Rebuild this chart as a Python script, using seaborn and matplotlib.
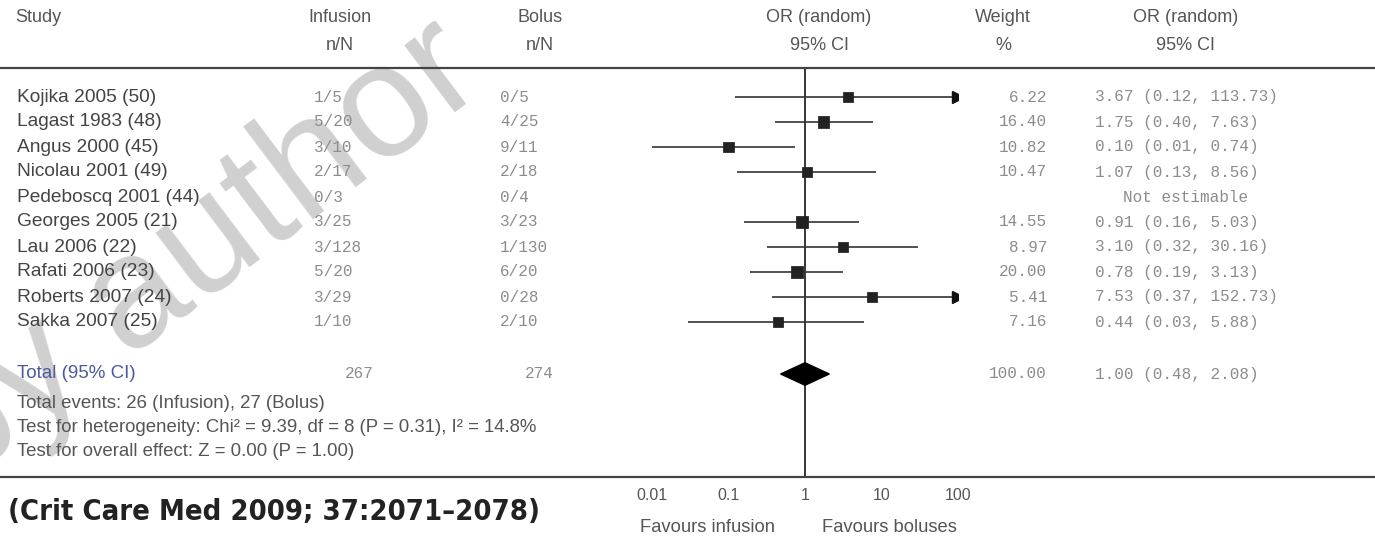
import numpy as np
import pandas as pd
import matplotlib
matplotlib.use('Agg')
import matplotlib.pyplot as plt
import matplotlib.transforms as mtransforms
from matplotlib import font_manager
from matplotlib.lines import Line2D
import seaborn as sns

# data
studies = ['Kojika 2005 (50)', 'Lagast 1983 (48)', 'Angus 2000 (45)', 'Nicolau 2001 (49)',
           'Pedeboscq 2001 (44)', 'Georges 2005 (21)', 'Lau 2006 (22)', 'Rafati 2006 (23)',
           'Roberts 2007 (24)', 'Sakka 2007 (25)']
infusion = ['1/5', '5/20', '3/10', '2/17', '0/3', '3/25', '3/128', '5/20', '3/29', '1/10']
bolus = ['0/5', '4/25', '9/11', '2/18', '0/4', '3/23', '1/130', '6/20', '0/28', '2/10']
odds = [3.67, 1.75, 0.10, 1.07, np.nan, 0.91, 3.10, 0.78, 7.53, 0.44]
ci_low = [0.12, 0.40, 0.01, 0.13, np.nan, 0.16, 0.32, 0.19, 0.37, 0.03]
ci_high = [113.73, 7.63, 0.74, 8.56, np.nan, 5.03, 30.16, 3.13, 152.73, 5.88]
weights = [6.22, 16.40, 10.82, 10.47, np.nan, 14.55, 8.97, 20.00, 5.41, 7.16]

total_n = [267, 274]
total_or = 1.00
total_ci = [0.48, 2.08]
total_weight = 100.00
ticks = [0.01, 0.1, 1, 10, 100]
tick_labels = ['0.01', '0.1', '1', '10', '100']

df = pd.DataFrame({'study': studies, 'or': odds, 'lo': ci_low, 'hi': ci_high,
                   'w': weights})
df['row'] = np.arange(len(df))
est = df.dropna()

sns.set_style('white')
plt.rcParams['font.family'] = ['Liberation Sans', 'DejaVu Sans']

W, H = 1375, 537
fig = plt.figure(figsize=(W / 100, H / 100), dpi=100)


def fx(px):
    return px / W


def fy(py):
    return 1 - py / H


ax = fig.add_axes([fx(652), fy(477), fx(958) - fx(652), fy(68) - fy(477)])
ax.set_xscale('log')
ax.set_xlim(0.01, 100)
ax.set_ylim(15.2, -1.16)

# confidence intervals, clipped to the axis with arrows past 100
ax.hlines(est['row'], est['lo'].clip(lower=0.01), est['hi'].clip(upper=100),
          color='#333333', lw=1.2, zorder=2)
over = est[est['hi'] > 100]
ax.plot([100] * len(over), over['row'], ls='none', marker='>', ms=8.5,
        color='#111111', zorder=3)
sns.scatterplot(data=est, x='or', y='row', size='w', sizes=(45, 80), marker='s',
                color='#222222', edgecolor='#222222', legend=False, ax=ax, zorder=4)

# pooled diamond
ty = len(df) + 1.08
ax.fill([total_ci[0], total_or, total_ci[1], total_or], [ty, ty - 0.45, ty, ty + 0.45],
        color='black', zorder=4)
ax.axvline(1, color='black', lw=1.1, zorder=1)

ax.set_xticks(ticks)
ax.set_xticklabels(tick_labels)
ax.xaxis.set_minor_locator(matplotlib.ticker.NullLocator())
ax.set_yticks([])
ax.tick_params(axis='x', direction='inout', length=6, width=1, color='#777777',
               labelsize=11.5, labelcolor='#555555', pad=5)
for s in ax.spines.values():
    s.set_visible(False)
ax.set_xlabel('')
ax.set_ylabel('')
ax.patch.set_alpha(0)

# full-width rules
for py in (68, 477):
    fig.add_artist(Line2D([0, 1], [fy(py), fy(py)], color='#444444', lw=1.6,
                          transform=fig.transFigure))

trans = mtransforms.blended_transform_factory(fig.transFigure, ax.transData)
mono = dict(family='Liberation Mono', fontsize=11.5, color='#8c8c8c', va='center')

# header
hdr = dict(fontsize=13, color='#555555', va='center')
fig.text(fx(15), fy(18), 'Study', ha='left', **hdr)
for x, a, b in [(340, 'Infusion', 'n/N'), (540, 'Bolus', 'n/N'),
                (819, 'OR (random)', '95% CI'), (1003, 'Weight', '%'),
                (1186, 'OR (random)', '95% CI')]:
    fig.text(fx(x), fy(18), a, ha='center', **hdr)
    fig.text(fx(x), fy(46), b, ha='center', **hdr)

# table rows
for i in range(len(df)):
    ax.text(fx(17), i, studies[i], transform=trans, ha='left', va='center',
            fontsize=13.8, color='#444444')
    ax.text(fx(314), i, infusion[i], transform=trans, ha='left', **mono)
    ax.text(fx(500), i, bolus[i], transform=trans, ha='left', **mono)
    if np.isnan(odds[i]):
        ax.text(fx(1186), i, 'Not estimable', transform=trans, ha='center', **mono)
    else:
        ax.text(fx(1047), i, '%.2f' % weights[i], transform=trans, ha='right', **mono)
        ax.text(fx(1095), i, '%.2f (%.2f, %.2f)' % (odds[i], ci_low[i], ci_high[i]),
                transform=trans, ha='left', **mono)

ax.text(fx(17), ty, 'Total (95% CI)', transform=trans, ha='left', va='center',
        fontsize=13.5, color='#4a5a9c')
ax.text(fx(345), ty, str(total_n[0]), transform=trans, ha='left', **mono)
ax.text(fx(525), ty, str(total_n[1]), transform=trans, ha='left', **mono)
ax.text(fx(1047), ty, '%.2f' % total_weight, transform=trans, ha='right', **mono)
ax.text(fx(1095), ty, '%.2f (%.2f, %.2f)' % (total_or, total_ci[0], total_ci[1]),
        transform=trans, ha='left', **mono)

foot = dict(fontsize=13.4, color='#555555', va='center', ha='left')
fig.text(fx(17), fy(404), 'Total events: 26 (Infusion), 27 (Bolus)', **foot)
fig.text(fx(17), fy(428), 'Test for heterogeneity: Chi² = 9.39, df = 8 (P = 0.31), I² = 14.8%',
         **foot)
fig.text(fx(17), fy(452), 'Test for overall effect: Z = 0.00 (P = 1.00)', **foot)

fig.text(fx(707), fy(528), 'Favours infusion', ha='center', va='center', fontsize=13.2,
         color='#555555')
fig.text(fx(889), fy(528), 'Favours boluses', ha='center', va='center', fontsize=13.2,
         color='#555555')

# citation in a narrow bold face if one is installed, fitted to its width
names = {f.name for f in font_manager.fontManager.ttflist}
cond = [f for f in font_manager.fontManager.ttflist
        if ('Narrow' in f.name or 'Condensed' in f.name or f.stretch in ('condensed', 'semi-condensed', 600, 500))
        and f.weight in ('bold', 700)]
if 'Liberation Sans Narrow' in names:
    cfam = 'Liberation Sans Narrow'
elif cond:
    cfam = cond[0].name
else:
    cfam = 'Liberation Sans'
cite = fig.text(fx(8), fy(512), '(Crit Care Med 2009; 37:2071\u20132078)', ha='left',
                va='center', fontsize=25, fontweight='bold', color='#222222', family=cfam)
if cond and cfam == cond[0].name:
    cite.set_fontstretch(cond[0].stretch)
fig.canvas.draw()
wpx = cite.get_window_extent().width
cite.set_fontsize(25 * 532 / wpx)

# watermark
fig.text(fx(-43), fy(488), 'by author', ha='left', va='baseline', rotation=37,
         rotation_mode='anchor', fontsize=115, color='#d0d0d0', zorder=-1)

fig.savefig('out.png', dpi=100)
